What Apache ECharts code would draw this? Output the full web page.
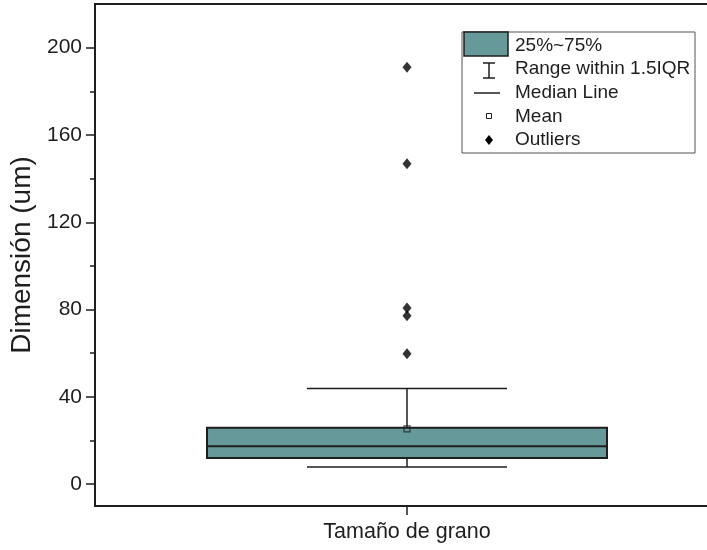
<!DOCTYPE html>
<html>
<head>
<meta charset="utf-8">
<script src="https://cdn.jsdelivr.net/npm/echarts@6/dist/echarts.min.js"></script>
<style>html,body{margin:0;padding:0;background:#fff}#c{width:707px;height:550px}</style>
</head>
<body>
<div id="c"></div>
<script>
// ---- data ----
const categories = ['Tamaño de grano'];
// [categoryIndex, whiskerLow, Q1, median, Q3, whiskerHigh]
const boxValues = [[0, 7.9, 12.0, 17.4, 25.8, 43.8]];
const meanValues = [[0, 25.3]];
const outlierValues = [[0, 59.8], [0, 77.2], [0, 80.7], [0, 146.8], [0, 191.0]];
const yTickLabels = [0, 40, 80, 120, 160, 200];
const yMinorTicks = [20, 60, 100, 140, 180];
const legendLabels = ['25%~75%', 'Range within 1.5IQR', 'Median Line', 'Mean', 'Outliers'];

const FONT = '"Liberation Sans", Arial, sans-serif';
const INK = '#1e1e1e';
const BOX = '#669999';

const chart = echarts.init(document.getElementById('c'));

function renderBox(params, api) {
  const x = api.value(0);
  const pLow = api.coord([x, api.value(1)]);
  const pQ1 = api.coord([x, api.value(2)]);
  const pMed = api.coord([x, api.value(3)]);
  const pQ3 = api.coord([x, api.value(4)]);
  const pHigh = api.coord([x, api.value(5)]);
  const band = api.size([1, 0])[0];
  const hw = band * 0.641 / 2;
  const cw = hw / 2;
  const cx = pMed[0];
  const ls = { stroke: INK, lineWidth: 1.5 };
  return {
    type: 'group',
    children: [
      { type: 'line', shape: { x1: cx, y1: pQ3[1], x2: cx, y2: pHigh[1] }, style: ls },
      { type: 'line', shape: { x1: cx, y1: pQ1[1], x2: cx, y2: pLow[1] }, style: ls },
      { type: 'line', shape: { x1: cx - cw, y1: pHigh[1], x2: cx + cw, y2: pHigh[1] }, style: ls },
      { type: 'line', shape: { x1: cx - cw, y1: pLow[1], x2: cx + cw, y2: pLow[1] }, style: ls },
      { type: 'rect', shape: { x: cx - hw, y: pQ3[1], width: hw * 2, height: pQ1[1] - pQ3[1] },
        style: { fill: BOX, stroke: INK, lineWidth: 2 } },
      { type: 'line', shape: { x1: cx - hw, y1: pMed[1], x2: cx + hw, y2: pMed[1] },
        style: { stroke: INK, lineWidth: 2 } }
    ]
  };
}

// legend drawn as graphic
const LX = 462, LY = 32, rowH = 23.6;
const legendChildren = [
  { type: 'rect', shape: { x: 0, y: 0, width: 233, height: 121 }, style: { fill: '#fff', stroke: '#555', lineWidth: 1 } },
  { type: 'rect', shape: { x: 2, y: 0, width: 44, height: 24 }, style: { fill: BOX, stroke: INK, lineWidth: 1.5 } },
  { type: 'line', shape: { x1: 27, y1: 31, x2: 27, y2: 46 }, style: { stroke: INK, lineWidth: 1.5 } },
  { type: 'line', shape: { x1: 21, y1: 31, x2: 33, y2: 31 }, style: { stroke: INK, lineWidth: 1.5 } },
  { type: 'line', shape: { x1: 21, y1: 46, x2: 33, y2: 46 }, style: { stroke: INK, lineWidth: 1.5 } },
  { type: 'line', shape: { x1: 12, y1: 61, x2: 38, y2: 61 }, style: { stroke: INK, lineWidth: 1.5 } },
  { type: 'rect', shape: { x: 24.5, y: 81.5, width: 5, height: 5 }, style: { fill: '#fff', stroke: INK, lineWidth: 1 } },
  { type: 'polygon', shape: { points: [[27, 103], [31, 108], [27, 113], [23, 108]] }, style: { fill: '#000' } }
];
legendLabels.forEach((t, i) => {
  legendChildren.push({
    type: 'text', x: 53, y: 13.5 + i * rowH,
    style: { text: t, font: '19px ' + FONT, fill: INK, verticalAlign: 'middle' }
  });
});

const gridBox = { left: 95, width: 624, top: 4, bottom: 44, outerBoundsMode: 'none', containLabel: false };

chart.setOption({
  animation: false,
  backgroundColor: '#fff',
  grid: [
    Object.assign({ show: true, borderColor: INK, borderWidth: 2, backgroundColor: 'transparent' }, gridBox),
    Object.assign({}, gridBox)
  ],
  xAxis: [{
    type: 'category',
    gridIndex: 0,
    data: categories,
    position: 'bottom',
    axisLine: { onZero: false, lineStyle: { color: INK, width: 2 } },
    axisTick: { show: true, interval: 0, alignWithLabel: true, length: 9, lineStyle: { color: INK, width: 1.5 } },
    axisLabel: { color: INK, fontSize: 21.5, fontFamily: FONT, margin: 15 },
    splitLine: { show: false }
  }, {
    type: 'category',
    gridIndex: 1,
    data: categories,
    show: false
  }],
  yAxis: [{
    type: 'value',
    gridIndex: 0,
    min: -10, max: 220,
    position: 'left',
    name: 'Dimensión (um)',
    nameLocation: 'middle',
    nameGap: 57,
    nameTextStyle: { color: INK, fontSize: 28, fontFamily: FONT },
    axisLine: { show: true, onZero: false, lineStyle: { color: INK, width: 2 } },
    axisTick: { show: true, length: 9, customValues: yTickLabels, lineStyle: { color: INK, width: 1.5 } },
    axisLabel: { color: INK, fontSize: 21, fontFamily: FONT, margin: 13, customValues: yTickLabels },
    splitLine: { show: false }
  }, {
    type: 'value',
    gridIndex: 1,
    min: -10, max: 220,
    position: 'left',
    axisLine: { show: false, onZero: false },
    axisTick: { show: true, length: 5, customValues: yMinorTicks, lineStyle: { color: INK, width: 1.5 } },
    axisLabel: { show: false },
    splitLine: { show: false }
  }],
  series: [{
    type: 'custom',
    name: '25%~75%',
    xAxisIndex: 0, yAxisIndex: 0,
    renderItem: renderBox,
    data: boxValues,
    encode: { x: 0, y: [1, 2, 3, 4, 5] },
    z: 2
  }, {
    type: 'scatter',
    name: 'Mean',
    xAxisIndex: 0, yAxisIndex: 0,
    data: meanValues,
    symbol: 'rect',
    symbolSize: 6,
    itemStyle: { color: 'transparent', borderColor: INK, borderWidth: 1.2 },
    z: 5
  }, {
    type: 'scatter',
    name: 'Outliers',
    xAxisIndex: 0, yAxisIndex: 0,
    data: outlierValues,
    symbol: 'diamond',
    symbolSize: [9, 11],
    itemStyle: { color: '#000' },
    z: 5
  }],
  graphic: [
    { type: 'group', x: LX, y: LY, children: legendChildren, z: 10 },
    { type: 'rect', shape: { x: 700, y: 6, width: 7, height: 498 }, style: { fill: '#fff' }, z: 100 }
  ]
});
</script>
</body>
</html>
